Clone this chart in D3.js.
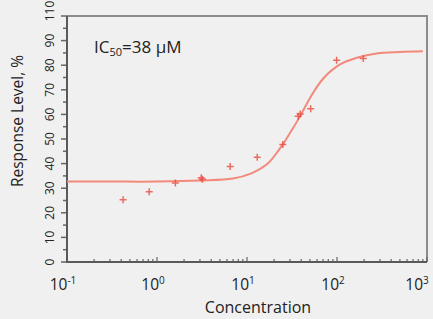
<!DOCTYPE html>
<html lang="en">
<head>
    <meta charset="UTF-8">
    <title>Dose Response</title>
    <script src="https://d3js.org/d3.v7.min.js"></script>
    <style>
        body { margin: 0; background: #f0f0f0; }
        text { font-family: "Open Sans", sans-serif; fill: #222; }
    </style>
</head>
<body>
    <svg id="chart"></svg>
    <script>
        // measured points (concentration, response %)
        const conc = [0.42, 0.82, 1.6, 3.1, 3.2, 6.5, 13, 25, 37, 39, 51, 99, 196];
        const resp = [25.3, 28.6, 32.1, 34.2, 33.6, 38.8, 42.6, 47.8, 59.2, 60.2, 62.3, 82, 82.7];

        // fitted curve
        const fitConc = [0.1, 0.3, 1, 3, 7, 11, 17, 22, 25, 30, 39, 50, 70, 108, 166, 276, 500, 900];
        const fitResp = [32.7, 32.7, 32.7, 33.1, 33.9, 35.9, 40.0, 45.0, 47.8, 52.4, 59.3, 66.6, 74.5, 80.3, 83.0, 84.8, 85.4, 85.7];

        const xTicks = [0.1, 1, 10, 100, 1000];
        const xTickExp = ["-1", "0", "1", "2", "3"];
        const yTicks = [0, 10, 20, 30, 40, 50, 60, 70, 80, 90, 100];
        const yTickLabels = ["0", "10", "20", "30", "40", "50", "60", "70", "80", "90", "110"];

        const margin = { top: 16, right: 6, bottom: 57, left: 67 };
        const width = 433 - margin.left - margin.right;
        const height = 319 - margin.top - margin.bottom;

        const svg = d3.select("#chart")
                      .attr("width", 433)
                      .attr("height", 319)
                      .append("g")
                      .attr("transform", `translate(${margin.left},${margin.top})`);

        const x = d3.scaleLog().domain([0.1, 1000]).range([0, width]);
        const y = d3.scaleLinear().domain([0, 100]).range([height, 0]);

        // frame (top and right)
        svg.append("path")
           .attr("d", `M0,0H${width}V${height}`)
           .attr("fill", "none")
           .attr("stroke", "#8c8c8c")
           .attr("stroke-width", 2);

        // y ticks
        const yMinor = d3.range(0, 101, 5);
        svg.selectAll(".ytick")
           .data(yMinor)
           .enter()
           .append("line")
           .attr("x1", d => d % 10 === 0 ? -6 : -4)
           .attr("x2", 0)
           .attr("y1", d => y(d))
           .attr("y2", d => y(d))
           .attr("stroke", "#666")
           .attr("stroke-width", 1.5);

        svg.selectAll(".ylab")
           .data(yTicks)
           .enter()
           .append("text")
           .attr("transform", (d, i) => `translate(-13,${y(d) + (i === yTicks.length - 1 ? -5 : 0)}) rotate(-90)`)
           .attr("text-anchor", "middle")
           .style("font-size", "12px")
           .text((d, i) => yTickLabels[i]);

        // x ticks (minor, pointing inside)
        const xMinor = [];
        for (let e = -1; e < 3; e++) {
            for (let k = 1; k < 10; k++) xMinor.push(k * Math.pow(10, e));
        }
        xMinor.push(1000);
        svg.selectAll(".xtick")
           .data(xMinor)
           .enter()
           .append("line")
           .attr("x1", d => x(d))
           .attr("x2", d => x(d))
           .attr("y1", height)
           .attr("y2", d => xTicks.includes(d) ? height - 5 : height - 3)
           .attr("stroke", "#666")
           .attr("stroke-width", 1.2);

        const xl = svg.selectAll(".xlab")
                      .data(xTicks)
                      .enter()
                      .append("text")
                      .attr("x", d => x(d) - (d === 1000 ? 10 : 4))
                      .attr("y", height + 28)
                      .attr("text-anchor", "middle")
                      .style("font-size", "15.5px");
        xl.append("tspan").text("10");
        xl.append("tspan")
          .attr("dy", -6)
          .style("font-size", "10px")
          .text((d, i) => xTickExp[i]);

        // axis lines
        svg.append("line")
           .attr("x1", 0).attr("x2", 0)
           .attr("y1", 0).attr("y2", height + 1)
           .attr("stroke", "#5a5a5a")
           .attr("stroke-width", 2);
        svg.append("line")
           .attr("x1", -1).attr("x2", width)
           .attr("y1", height).attr("y2", height)
           .attr("stroke", "#5a5a5a")
           .attr("stroke-width", 2);

        // fit line
        const fit = fitConc.map((c, i) => [c, fitResp[i]]);
        svg.append("path")
           .datum(fit)
           .attr("fill", "none")
           .attr("stroke", "#f2897b")
           .attr("stroke-width", 2)
           .attr("d", d3.line()
                        .x(d => x(d[0]))
                        .y(d => y(d[1]))
                        .curve(d3.curveCatmullRom.alpha(0.5)));

        // points as plus marks
        const pts = conc.map((c, i) => [c, resp[i]]);
        svg.selectAll(".pt")
           .data(pts)
           .enter()
           .append("path")
           .attr("d", d => `M${x(d[0]) - 3.5},${y(d[1])}h7M${x(d[0])},${y(d[1]) - 3.5}v7`)
           .attr("stroke", "#ea4a3e")
           .attr("stroke-width", 1.5)
           .attr("opacity", 0.8);

        // labels
        const ic = svg.append("text")
                      .attr("x", 27)
                      .attr("y", 37)
                      .style("font-size", "17px");
        ic.append("tspan").text("IC");
        ic.append("tspan").attr("dy", 3).style("font-size", "11px").text("50");
        ic.append("tspan").attr("dy", -3).text("=38 μM");

        svg.append("text")
           .attr("x", 191)
           .attr("y", height + 51)
           .attr("text-anchor", "middle")
           .style("font-size", "16px")
           .text("Concentration");

        svg.append("text")
           .attr("transform", `translate(-44,${height / 2 - 18}) rotate(-90)`)
           .attr("text-anchor", "middle")
           .style("font-size", "15.5px")
           .text("Response Level, %");
    </script>
</body>
</html>
